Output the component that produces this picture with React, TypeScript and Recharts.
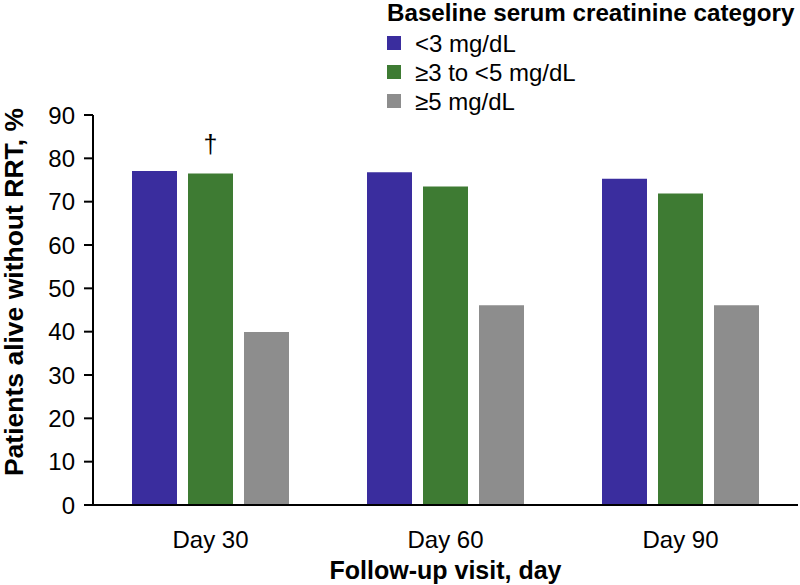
import React from 'react';
import { BarChart, Bar, XAxis, YAxis, LabelList } from 'recharts';

const categories = ['Day 30', 'Day 60', 'Day 90'];
const lowValues = [77.1, 76.8, 75.3];
const midValues = [76.5, 73.5, 71.9];
const highValues = [39.9, 46.1, 46.1];
const midMarks = ['†', '', ''];
const yTicks = [0, 10, 20, 30, 40, 50, 60, 70, 80, 90];
const seriesNames = ['<3 mg/dL', '≥3 to <5 mg/dL', '≥5 mg/dL'];
const seriesColors = ['#3a2d9e', '#3e7b33', '#8d8d8d'];
const legendTitle = 'Baseline serum creatinine category';
const yTitle = 'Patients alive without RRT, %';
const xTitle = 'Follow-up visit, day';

const data = categories.map((c, i) => ({
  day: c,
  low: lowValues[i],
  mid: midValues[i],
  high: highValues[i],
  mark: midMarks[i],
}));

const FONT = '"Liberation Sans", Arial, Helvetica, sans-serif';

const LegendBox = () => (
  <div style={{ position: 'absolute', left: 387, top: 1, fontFamily: FONT, color: '#000' }}>
    <div style={{ fontWeight: 'bold', fontSize: 24.2, lineHeight: '24px', height: 27.5, whiteSpace: 'nowrap' }}>{legendTitle}</div>
    {seriesNames.map((n, i) => (
      <div key={n} style={{ display: 'flex', alignItems: 'center', height: 29, fontSize: 24, lineHeight: '29px' }}>
        <span style={{ display: 'inline-block', width: 14, height: 14, background: seriesColors[i], marginRight: 14 }} />
        <span style={{ whiteSpace: 'nowrap' }}>{n}</span>
      </div>
    ))}
  </div>
);

const YTitle = (props: any) => {
  const vb = props.viewBox;
  const cx = vb.x + 14;
  const cy = vb.y + vb.height / 2 - 18;
  return (
    <text x={cx} y={cy} transform={`rotate(-90, ${cx}, ${cy})`} textAnchor="middle" dominantBaseline="central"
      style={{ fontFamily: FONT, fontWeight: 'bold', fontSize: 26.5, fill: '#000' }}>{yTitle}</text>
  );
};

const XTitle = (props: any) => {
  const vb = props.viewBox;
  const cx = vb.x + vb.width / 2;
  return (
    <text x={cx} y={vb.y + 74} textAnchor="middle"
      style={{ fontFamily: FONT, fontWeight: 'bold', fontSize: 25, fill: '#000' }}>{xTitle}</text>
  );
};

const Dagger = (props: any) => {
  const { x, y, width, value } = props;
  if (!value) return null;
  return (
    <text x={x + width / 2} y={y - 21} textAnchor="middle"
      style={{ fontFamily: FONT, fontSize: 25, fill: '#000' }}>{value}</text>
  );
};

export default function App() {
  return (
    <div style={{ position: 'absolute', left: 0, top: 0, width: 800, height: 585, background: '#fff' }}>
      <BarChart width={800} height={585} data={data} margin={{ top: 115, right: 2, bottom: 0, left: 0 }}
        barSize={45} barGap={11}>
        <XAxis dataKey="day" height={80} tickLine={false} tickSize={0} tickMargin={26}
          axisLine={{ stroke: '#000', strokeWidth: 2 }}
          tick={{ fontSize: 24, fill: '#000', fontFamily: FONT }}
          label={<XTitle />} />
        <YAxis width={93} domain={[0, 90]} ticks={yTicks} interval={0} tickSize={9} tickMargin={9}
          axisLine={{ stroke: '#000', strokeWidth: 2 }}
          tickLine={{ stroke: '#000', strokeWidth: 2 }}
          tick={{ fontSize: 24, fill: '#000', fontFamily: FONT }}
          label={<YTitle />} />
        <Bar dataKey="low" name={seriesNames[0]} fill={seriesColors[0]} isAnimationActive={false} />
        <Bar dataKey="mid" name={seriesNames[1]} fill={seriesColors[1]} isAnimationActive={false}>
          <LabelList dataKey="mark" content={<Dagger />} />
        </Bar>
        <Bar dataKey="high" name={seriesNames[2]} fill={seriesColors[2]} isAnimationActive={false} />
      </BarChart>
      <LegendBox />
    </div>
  );
}
